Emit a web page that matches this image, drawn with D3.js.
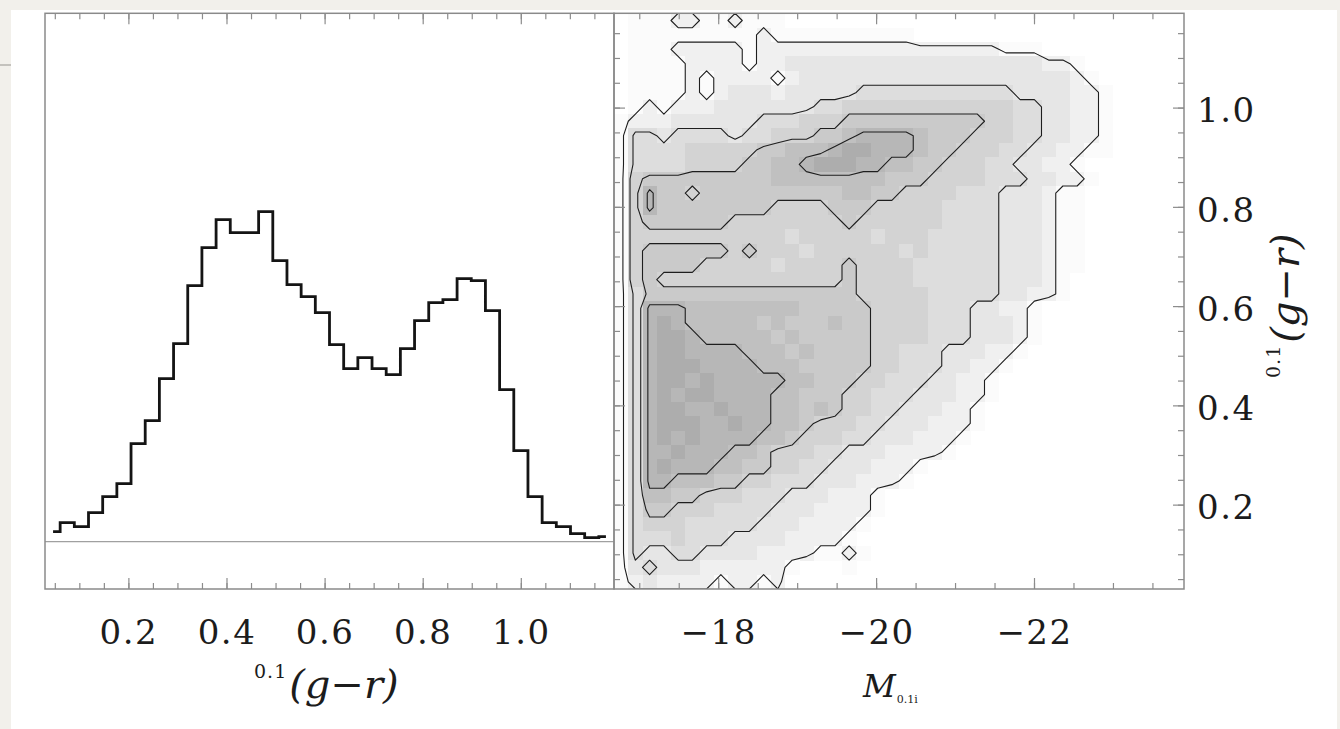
<!DOCTYPE html>
<html>
<head>
<meta charset="utf-8">
<script src="https://cdn.jsdelivr.net/npm/d3@7"></script>
<style>
  html, body { margin: 0; padding: 0; background: #f2f0eb; }
  svg { display: block; }
</style>
</head>
<body>
<svg id="chart" width="1340" height="729"></svg>
<script>
// ---- data ----
// histogram of 0.1(g-r), equal bins
const histStart = 0.032;
const histWidth = 0.0289;
const histFreq = [0.10, 0.19, 0.15, 0.29, 0.45, 0.58, 0.98, 1.21, 1.63, 1.98,
                  2.56, 2.94, 3.22, 3.09, 3.09, 3.30, 2.81, 2.57, 2.45, 2.29,
                  1.97, 1.73, 1.84, 1.73, 1.67, 1.93, 2.21, 2.39, 2.42, 2.63,
                  2.61, 2.31, 1.52, 0.91, 0.45, 0.19, 0.15, 0.08, 0.04, 0.05];

const colourTicks = [0.2, 0.4, 0.6, 0.8, 1.0];
const magTicks = [-18, -20, -22];

// density of galaxies in (M, colour); rows from red (top) to blue (bottom), levels 0-9
const gridMag = [-16.68, -23.9];
const gridCol = [0.03, 1.19];
const densityRows = [
  "0111221121110000000000000000000000000000",
  "0111111111211111111110000000000000000000",
  "0111222221222222222222222221110000000000",
  "0111122221223333333333333333332210000000",
  "0111121222212333333333333333333321000000",
  "0111121233323333344444444444333322100000",
  "0121222333333344555555555555443322100000",
  "1222333333444555666666666655443322100000",
  "1443444434455566788887666555443322100000",
  "1444455555667778998887665554433221100000",
  "1444455556677899988776655544332210000000",
  "1566666666677777777666555544433221000000",
  "1586656666666666776655554443332110000000",
  "1586666666655556665555544443332110000000",
  "1566666655555555655555544443332110000000",
  "1555555555554555554555444443332110000000",
  "1566666656555455555545444443332110000000",
  "1566665555545555655554444443332110000000",
  "1565555555555555655554444443332100000000",
  "1466666666666666655555444443322100000000",
  "1488877777777666665555444332210000000000",
  "1489877777676667665555444333210000000000",
  "1489987777767666665555444333210000000000",
  "1489988887776766665544433322100000000000",
  "1489998888777666665544433221000000000000",
  "1489989888887766655444332210000000000000",
  "1489899888877666554443332210000000000000",
  "1489988988877676554433322100000000000000",
  "1489998898877655544333222100000000000000",
  "1489898888776555443332221000000000000000",
  "1488988877655544333222210000000000000000",
  "1489888776655443332221000000000000000000",
  "1488777665544433322210000000000000000000",
  "1477665554443332221000000000000000000000",
  "1466555444433322221000000000000000000000",
  "1455544444333222210000000000000000000000",
  "1444544433332222100000000000000000000000",
  "1433443333222211210000000000000000000000",
  "1343332222221000100000000000000000000000",
  "1232222122120000000000000000000000000000"
];
const contourLevels = [1.5, 3.5, 5.5, 7.5];

// ---- layout ----
const svg = d3.select('#chart');
const serif = '"DejaVu Serif", "Liberation Serif", serif';

svg.append('rect').attr('x', 11).attr('y', 10).attr('width', 1326).attr('height', 719).attr('fill', '#ffffff');
svg.append('line').attr('x1', 0).attr('x2', 11).attr('y1', 65).attr('y2', 65)
  .attr('stroke', '#b5b3ae').attr('stroke-width', 1.5);

const xL = d3.scaleLinear().domain([0.03, 1.19]).range([45, 614]);
const yL = d3.scaleLinear().domain([-0.473, 5.284]).range([589, 13.3]);
const xR = d3.scaleLinear().domain([gridMag[0], gridMag[1]]).range([614, 1184]);
const yR = d3.scaleLinear().domain([gridCol[0], gridCol[1]]).range([589, 13.3]);

const defs = svg.append('defs');
defs.append('clipPath').attr('id', 'clipR').append('rect')
  .attr('x', 614).attr('y', 13.3).attr('width', 570).attr('height', 575.7);

// ---- right panel: grey cells ----
const nx = densityRows[0].length, ny = densityRows.length;
const values = [];
densityRows.forEach(r => { for (const ch of r) values.push(+ch); });
const dM = (gridMag[1] - gridMag[0]) / nx;
const dC = (gridCol[1] - gridCol[0]) / ny;
const grey = d3.scaleLinear().domain([0, 1, 2, 9]).range(['#ffffff', '#fbfbfb', '#f0f0f0', '#adadad']);

const cellData = [];
values.forEach((v, k) => { if (v > 0) cellData.push({ i: k % nx, j: Math.floor(k / nx), v }); });

const right = svg.append('g').attr('clip-path', 'url(#clipR)');
right.selectAll('rect.cell')
  .data(cellData)
  .join('rect')
  .attr('class', 'cell')
  .attr('x', d => xR(gridMag[0] + d.i * dM))
  .attr('y', d => yR(gridCol[1] - d.j * dC))
  .attr('width', d => xR(gridMag[0] + (d.i + 1) * dM) - xR(gridMag[0] + d.i * dM) + 0.3)
  .attr('height', d => yR(gridCol[1] - (d.j + 1) * dC) - yR(gridCol[1] - d.j * dC) + 0.3)
  .attr('fill', d => grey(d.v))
  .attr('shape-rendering', 'crispEdges');

// contour lines from the same grid
const contours = d3.contours().size([nx, ny]).thresholds(contourLevels)(values);
const proj = d3.geoTransform({
  point(px, py) { this.stream.point(xR(gridMag[0] + px * dM), yR(gridCol[1] - py * dC)); }
});
const cpath = d3.geoPath(proj);
right.selectAll('path.contour')
  .data(contours)
  .join('path')
  .attr('class', 'contour')
  .attr('d', cpath)
  .attr('fill', 'none')
  .attr('stroke', '#1e1e1e')
  .attr('stroke-width', 1.1)
  .attr('stroke-linejoin', 'round');

// ---- left panel: histogram ----
const histPts = histFreq.map((f, i) => [histStart + (i + 0.5) * histWidth, f]);
svg.append('line')
  .attr('x1', xL(0.03)).attr('x2', xL(1.19))
  .attr('y1', yL(0)).attr('y2', yL(0))
  .attr('stroke', '#a0a0a0').attr('stroke-width', 1.3);

svg.append('path')
  .datum(histPts)
  .attr('d', d3.line().x(d => xL(d[0])).y(d => yL(d[1])).curve(d3.curveStep))
  .attr('fill', 'none')
  .attr('stroke', '#141414')
  .attr('stroke-width', 2.8)
  .attr('stroke-linejoin', 'miter');

// ---- ticks ----
function styleTicks(g) {
  g.select('.domain').remove();
  g.selectAll('line').attr('stroke', '#8c8c8c').attr('stroke-width', 1.2);
}
function styleLabels(g) {
  g.selectAll('text')
    .attr('fill', '#1c1c1c')
    .style('font-family', serif)
    .style('font-size', '34px')
    .style('letter-spacing', '1.5px');
}

const minorCol = d3.range(0.05, 1.17, 0.05);
const minorMag = d3.range(-17, -23.9, -0.5);
const fmtCol = d3.format('.1f');
const fmtMag = d3.format('d');

// left panel bottom and top
svg.append('g').attr('transform', 'translate(0,589)')
  .call(d3.axisBottom(xL).tickValues(minorCol).tickSize(-6).tickFormat(''))
  .call(styleTicks);
svg.append('g').attr('transform', 'translate(0,589)')
  .call(d3.axisBottom(xL).tickValues(colourTicks).tickSize(-11).tickPadding(31).tickFormat(fmtCol))
  .call(styleTicks).call(styleLabels);
svg.append('g').attr('transform', 'translate(0,13.3)')
  .call(d3.axisTop(xL).tickValues(minorCol).tickSize(-6).tickFormat(''))
  .call(styleTicks);
svg.append('g').attr('transform', 'translate(0,13.3)')
  .call(d3.axisTop(xL).tickValues(colourTicks).tickSize(-11).tickFormat(''))
  .call(styleTicks);

// right panel bottom and top
svg.append('g').attr('transform', 'translate(0,589)')
  .call(d3.axisBottom(xR).tickValues(minorMag).tickSize(-6).tickFormat(''))
  .call(styleTicks);
svg.append('g').attr('transform', 'translate(0,589)')
  .call(d3.axisBottom(xR).tickValues(magTicks).tickSize(-11).tickPadding(31).tickFormat(fmtMag))
  .call(styleTicks).call(styleLabels);
svg.append('g').attr('transform', 'translate(0,13.3)')
  .call(d3.axisTop(xR).tickValues(minorMag).tickSize(-6).tickFormat(''))
  .call(styleTicks);
svg.append('g').attr('transform', 'translate(0,13.3)')
  .call(d3.axisTop(xR).tickValues(magTicks).tickSize(-11).tickFormat(''))
  .call(styleTicks);

// right panel left and right
svg.append('g').attr('transform', 'translate(614,0)')
  .call(d3.axisLeft(yR).tickValues(minorCol).tickSize(-6).tickFormat(''))
  .call(styleTicks);
svg.append('g').attr('transform', 'translate(614,0)')
  .call(d3.axisLeft(yR).tickValues(colourTicks).tickSize(-11).tickFormat(''))
  .call(styleTicks);
svg.append('g').attr('transform', 'translate(1184,0)')
  .call(d3.axisRight(yR).tickValues(minorCol).tickSize(-6).tickFormat(''))
  .call(styleTicks);
const yAx = svg.append('g').attr('transform', 'translate(1184,0)')
  .call(d3.axisRight(yR).tickValues(colourTicks).tickSize(-11).tickPadding(13).tickFormat(fmtCol))
  .call(styleTicks).call(styleLabels);
yAx.selectAll('text').attr('dy', '0.42em');

// ---- frames ----
[[45, 614], [614, 1184]].forEach(([a, b]) => {
  svg.append('rect')
    .attr('x', a).attr('y', 13.3).attr('width', b - a).attr('height', 575.7)
    .attr('fill', 'none').attr('stroke', '#8a8a8a').attr('stroke-width', 1.5);
});

// ---- axis titles ----
const tx = svg.append('text')
  .attr('x', 254).attr('y', 698)
  .attr('fill', '#1c1c1c')
  .style('font-family', serif);
tx.append('tspan').text('0.1').style('font-size', '19px').style('letter-spacing', '1px').attr('dy', -20);
tx.append('tspan').text('(g−r)').style('font-size', '40px').style('font-style', 'italic').attr('dy', 20).attr('dx', 2);

const tm = svg.append('text')
  .attr('x', 863).attr('y', 697)
  .attr('fill', '#1c1c1c')
  .style('font-family', serif);
tm.append('tspan').text('M').style('font-size', '32px').style('font-style', 'italic');
tm.append('tspan').text('0.1i').style('font-size', '11px').attr('dy', 6).attr('dx', 1);

const ty = svg.append('text')
  .attr('transform', 'translate(1299,378) rotate(-90)')
  .attr('fill', '#1c1c1c')
  .style('font-family', serif);
ty.append('tspan').text('0.1').style('font-size', '19px').style('letter-spacing', '1px').attr('dy', -19);
ty.append('tspan').text('(g−r)').style('font-size', '40px').style('font-style', 'italic').attr('dy', 19).attr('dx', 2);
</script>
</body>
</html>
